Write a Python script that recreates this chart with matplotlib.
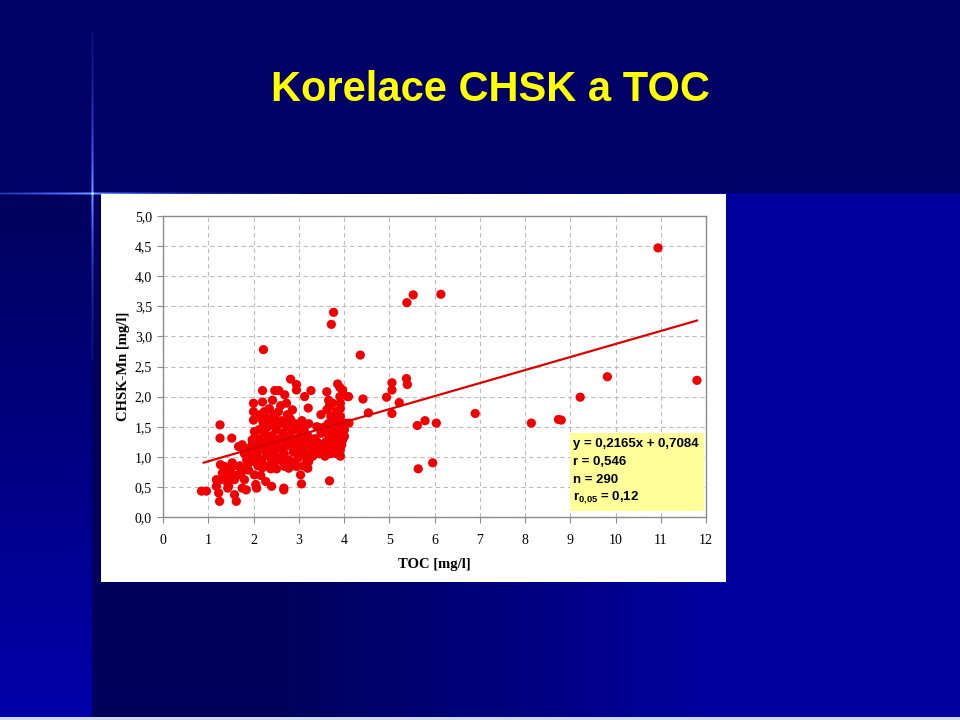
import numpy as np
import matplotlib.pyplot as plt
from matplotlib.patches import Rectangle

plt.rcParams['mathtext.fontset'] = 'custom'
plt.rcParams['mathtext.rm'] = 'Liberation Sans:bold'

# TOC [mg/l] (x) and CHSK-Mn [mg/l] (y)
toc = [10.94, 5.53, 6.14, 5.39, 3.77, 3.72, 2.22, 4.36, 9.82, 11.80, 5.38, 5.40,
       5.06, 5.06, 4.94, 5.22, 9.22, 4.42, 4.54, 5.06, 6.90, 5.79, 6.04, 5.62,
       8.14, 8.74, 8.80, 5.64, 5.96, 4.11, 4.10, 3.68,
       0.85, 0.96, 1.26, 1.26, 1.25, 1.23, 1.18, 1.27, 1.18, 1.27, 1.36, 1.31,
       1.45, 1.43, 1.53, 1.52, 1.49, 1.62, 1.58, 1.62, 1.58, 1.67, 1.71, 1.67,
       1.74, 1.80, 1.84, 1.75, 1.89, 1.80, 1.45, 1.36, 1.43,
       2.00, 2.00, 2.00, 2.20, 2.20, 2.24, 2.20, 2.24, 2.02, 1.98, 2.11, 2.02,
       1.98, 2.07, 2.02, 2.16, 2.07, 2.05, 2.27, 2.40, 2.38, 2.51, 2.47, 2.56,
       2.42, 2.42, 2.51, 2.69, 2.73, 2.82, 2.95, 2.95, 3.13, 3.27, 3.07, 3.21,
       2.86, 2.78, 2.64, 2.67, 2.67, 2.56, 2.69, 2.78, 2.86, 2.95, 3.04, 3.06,
       3.20, 3.22, 3.31, 3.35, 3.44, 3.49, 3.49, 3.62, 3.66, 3.75, 3.86, 3.91,
       3.97, 4.08, 3.91, 3.92, 3.62, 3.71, 3.84, 3.92, 4.01, 3.62, 3.71, 3.84,
       3.92, 4.01, 3.97, 3.88, 3.75, 3.62, 3.58, 3.92, 3.92, 3.80, 3.67, 4.01,
       2.05, 2.10, 2.15, 2.20, 2.25, 2.30, 2.35, 2.40, 2.45, 2.50, 2.55, 2.60,
       2.65, 2.70, 2.75, 2.80, 2.85, 2.90, 2.95, 3.00, 3.05, 3.10, 3.15, 3.20,
       3.25, 2.08, 2.18, 2.28, 2.38, 2.48, 2.58, 2.68, 2.78, 2.88, 2.98, 3.08,
       3.18, 2.12, 2.22, 2.32, 2.42, 2.52, 2.62, 2.72, 2.82, 2.92, 3.02, 3.12,
       3.22, 2.03, 2.13, 2.23, 2.33, 2.43, 2.53, 2.63, 2.73, 2.83, 2.93, 3.03,
       3.13, 3.23, 3.30, 3.35, 2.15, 2.35, 2.55, 2.60, 2.75, 2.85, 2.30, 2.45,
       2.00, 1.95, 1.92, 1.97, 2.03, 2.10, 2.20, 2.30, 2.45, 2.65, 2.90, 3.10,
       3.00, 3.25, 3.40, 3.45, 3.50, 3.55, 3.52, 3.60, 3.65, 3.70, 3.75, 3.80,
       3.85, 3.90, 3.95, 3.70, 3.80, 3.85, 3.78, 3.88, 3.95, 3.72, 3.82, 3.92,
       3.68, 3.65, 3.58, 3.48, 3.40, 1.75, 1.80, 1.85, 1.90, 1.88, 1.70, 1.78]
chsk = [4.47, 3.69, 3.70, 3.56, 3.40, 3.20, 2.78, 2.69, 2.33, 2.27, 2.30, 2.20,
        2.23, 2.11, 1.99, 1.90, 1.99, 1.96, 1.73, 1.72, 1.72, 1.60, 1.56, 1.52,
        1.56, 1.62, 1.61, 0.80, 0.90, 1.56, 2.00, 0.60,
        0.43, 0.43, 1.53, 1.31, 0.26, 0.40, 0.51, 0.62, 0.62, 0.87, 0.84, 0.73,
        0.67, 0.56, 0.90, 1.31, 0.78, 0.69, 0.62, 0.26, 0.37, 0.84, 0.70, 1.17,
        1.17, 0.78, 0.45, 0.48, 0.78, 0.62, 0.51, 0.67, 0.48,
        1.89, 1.75, 1.61, 2.10, 1.91, 1.75, 1.61, 1.56, 1.42, 1.23, 1.23, 1.06,
        1.01, 0.90, 0.70, 0.69, 0.48, 0.54, 0.59, 0.51, 0.80, 0.80, 2.10, 2.10,
        1.94, 1.61, 1.61, 2.03, 1.89, 2.29, 2.20, 2.11, 2.00, 2.10, 1.60, 1.81,
        1.78, 1.67, 1.56, 0.45, 0.48, 0.95, 0.84, 0.81, 0.90, 0.84, 0.70, 0.55,
        0.81, 0.92, 1.01, 1.09, 1.17, 1.39, 1.70, 2.08, 1.94, 1.89, 2.21, 2.15,
        2.11, 2.00, 2.00, 1.89, 1.78, 1.67, 1.61, 1.67, 1.56, 1.50, 1.45, 1.34,
        1.39, 1.45, 1.28, 1.17, 1.23, 1.12, 1.01, 1.12, 1.01, 1.06, 1.34, 1.34,
        1.20, 1.10, 1.30, 1.15, 1.40, 1.25, 1.10, 1.35, 1.20, 1.45, 1.30, 1.15,
        1.40, 1.25, 1.50, 1.35, 1.20, 1.45, 1.30, 1.15, 1.40, 1.25, 1.05, 1.35,
        1.20, 1.00, 0.95, 1.05, 0.98, 1.08, 0.98, 1.05, 0.95, 1.08, 0.98, 1.08,
        0.95, 1.45, 1.55, 1.50, 1.58, 1.52, 1.60, 1.55, 1.62, 1.55, 1.50, 1.45,
        1.55, 1.32, 1.22, 1.28, 1.18, 1.26, 1.16, 1.28, 1.18, 1.30, 1.20, 1.28,
        1.18, 1.28, 1.10, 1.30, 1.70, 1.80, 1.75, 1.85, 1.70, 1.45, 1.65, 1.70,
        1.10, 1.05, 1.15, 1.28, 0.93, 0.85, 0.82, 0.85, 0.88, 0.92, 0.88, 0.85,
        1.00, 1.00, 1.25, 1.05, 1.20, 1.10, 1.40, 1.25, 1.20, 1.30, 1.15, 1.25,
        1.40, 1.30, 1.20, 1.05, 1.35, 1.05, 1.50, 1.50, 1.45, 1.60, 1.75, 1.80,
        1.85, 1.55, 1.50, 1.48, 1.50, 1.20, 1.05, 0.95, 0.90, 1.10, 0.85, 0.80]

slope = 0.2165
intercept = 0.7084
fit_range = [0.9, 11.8]

xticks = list(range(0, 13))
yticks = [0.0, 0.5, 1.0, 1.5, 2.0, 2.5, 3.0, 3.5, 4.0, 4.5, 5.0]
stats_lines = ["y = 0,2165x + 0,7084", "r = 0,546", "n = 290", r"r$_{\mathrm{0{,}05}}$ = 0,12"]

W, H = 960, 720
fig = plt.figure(figsize=(W / 100, H / 100), dpi=100)

# slide background: flat navy on top, gradient below, bright left strip
bg = np.zeros((H, W, 3))
top = np.array([0, 0, 0x66]) / 255
dark = np.array([0, 0, 0x5c]) / 255
bright = np.array([0, 0, 0x9c]) / 255
cols = np.arange(W)
t = np.clip((cols - 280) / (700 - 280), 0, 1)
row_grad = dark[None, :] * (1 - t[:, None]) + bright[None, :] * t[:, None]
bg[:, :, :] = row_grad[None, :, :]
rows = np.arange(H)
tv = np.clip((rows - 193) / (700 - 193), 0, 1)
strip = dark[None, :] * (1 - tv[:, None]) + np.array([0, 0, 0xa8])[None, :] / 255 * tv[:, None]
bg[:, :92, :] = strip[:, None, :]
bg[:193, :, :] = top
bg[717:, :, :] = np.array([0xd0, 0xd8, 0xf0]) / 255
# light flare (cross) at the panel corner
glow = np.array([0.45, 0.65, 1.0])
vy = np.exp(-np.abs(rows - 193) / 70.0) * (rows > 30) * (rows < 360)
for dx, k in [(0, 1.0), (-1, 0.45), (1, 0.45)]:
    bg[:, 92 + dx, :] = np.clip(bg[:, 92 + dx, :] + k * vy[:, None] * glow, 0, 1)
hx = np.exp(-np.abs(cols - 92) / 80.0) * (cols < 300)
for dy, k in [(0, 1.0), (-1, 0.45), (1, 0.45)]:
    bg[193 + dy, :, :] = np.clip(bg[193 + dy, :, :] + k * hx[:, None] * glow, 0, 1)

bgax = fig.add_axes([0, 0, 1, 1])
bgax.imshow(bg, extent=[0, W, H, 0], aspect='auto', interpolation='bilinear')
bgax.add_patch(Rectangle((101, 194), 625, 388, facecolor='white', edgecolor='none'))
bgax.set_xlim(0, W)
bgax.set_ylim(H, 0)
bgax.axis('off')

fig.text(490 / W, 1 - 90 / H, "Korelace CHSK a TOC", color='#ffff00', fontsize=30,
         fontweight='bold', family='Liberation Sans', ha='center', va='center')

ax = fig.add_axes([163 / W, 1 - 517 / H, (706 - 163) / W, (517 - 216) / H])
ax.set_facecolor('white')
ax.scatter(toc, chsk, s=44, color='#f00000', edgecolors='none', zorder=3)
fx = np.array(fit_range)
ax.plot(fx, slope * fx + intercept, color='#d80000', lw=1.6, zorder=4)

ax.set_xlim(0, 12)
ax.set_ylim(0, 5)
ax.set_xticks(xticks)
ax.set_yticks(yticks)
ax.set_yticklabels([f"{v:.1f}".replace('.', ',') for v in yticks])
ax.grid(True, color='#bdbdbd', linestyle=(0, (4, 3)), lw=0.8)
ax.set_axisbelow(True)
for s in ax.spines.values():
    s.set_color('#8c8c8c')
    s.set_linewidth(1.0)
ax.tick_params(colors='#8c8c8c', length=4, labelcolor='black', labelsize=10)
for lab in ax.get_xticklabels() + ax.get_yticklabels():
    lab.set_family('Liberation Serif')
ax.tick_params(axis='x', pad=8)
ax.tick_params(axis='y', pad=4)
ax.set_xlabel("TOC [mg/l]", family='Liberation Serif', fontweight='bold', fontsize=10.5, labelpad=8)
ax.set_ylabel("CHSK-Mn [mg/l]", family='Liberation Serif', fontweight='bold', fontsize=10.5, labelpad=3)

ax.add_patch(Rectangle((9.0, 0.1), 2.95, 1.3, facecolor='#ffff99', edgecolor='none', zorder=5))
for i, line in enumerate(stats_lines):
    ax.text(9.05, 1.22 - i * 0.3, line, family='Liberation Sans', fontweight='bold',
            fontsize=9.5, va='center', ha='left', zorder=6)

fig.savefig("out.png", dpi=100)
